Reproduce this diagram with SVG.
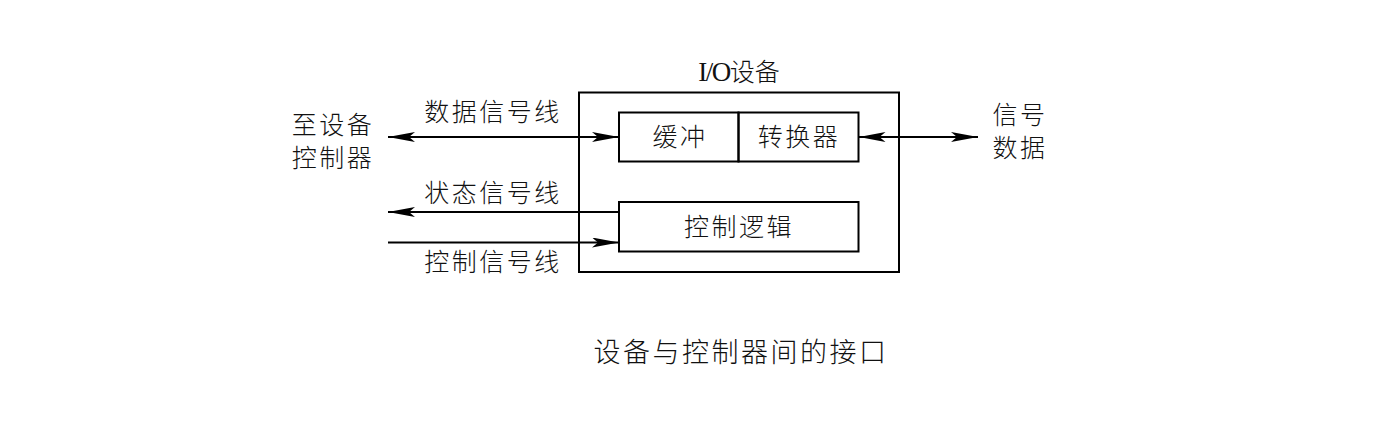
<svg xmlns="http://www.w3.org/2000/svg" width="1393" height="432" viewBox="0 0 1393 432">
<style>
.box{fill:none;stroke:#000;stroke-width:2}
.ln{fill:none;stroke:#000;stroke-width:1.8}
.t{font-family:"Noto Sans CJK SC","Noto Sans",sans-serif;font-size:25px;font-weight:300;fill:#111;letter-spacing:2.5px}
.c{text-anchor:middle}
</style>
<defs>
<marker id="ah" viewBox="0 0 27 10" refX="27" refY="5" markerWidth="27" markerHeight="10" markerUnits="userSpaceOnUse" orient="auto-start-reverse">
<path d="M0,0 L27,5 L0,10 L6,5 Z" fill="#000"/>
</marker>
</defs>
<rect width="1393" height="432" fill="#fff"/>
<g id="io-device">
<rect class="box" x="579" y="92.5" width="320" height="179.5"/>
<text x="739" y="81" class="c" style="font-family:'Liberation Serif','Noto Sans CJK SC',serif;font-size:27px;fill:#111"><tspan letter-spacing="-1.5">I/O</tspan><tspan style="font-family:'Noto Sans CJK SC',sans-serif;font-size:25px;font-weight:300">设备</tspan></text>
</g>
<g id="buffer">
<rect class="box" x="619" y="112.5" width="119.5" height="49"/>
<text x="680" y="146" class="t c">缓冲</text>
</g>
<g id="converter">
<rect class="box" x="738.5" y="112.5" width="120" height="49"/>
<text x="799" y="146" class="t c">转换器</text>
</g>
<g id="control-logic">
<rect class="box" x="619" y="202" width="239.5" height="49.5"/>
<text x="739" y="236" class="t c">控制逻辑</text>
</g>
<g id="controller">
<text x="333" y="134" class="t c">至设备</text>
<text x="333" y="167" class="t c">控制器</text>
</g>
<g id="signal-data">
<text x="1020" y="124" class="t c">信号</text>
<text x="1020" y="157" class="t c">数据</text>
</g>
<g id="connectors">
<line class="ln" x1="388" y1="137" x2="619" y2="137" marker-start="url(#ah)" marker-end="url(#ah)"/>
<line class="ln" x1="619" y1="212" x2="388" y2="212" marker-end="url(#ah)"/>
<line class="ln" x1="388" y1="242.5" x2="619" y2="242.5" marker-end="url(#ah)"/>
<line class="ln" x1="858.5" y1="137" x2="978" y2="137" marker-start="url(#ah)" marker-end="url(#ah)"/>
<text x="493" y="121" class="t c">数据信号线</text>
<text x="493" y="202" class="t c">状态信号线</text>
<text x="493" y="271" class="t c">控制信号线</text>
</g>
<text x="741" y="362" class="t c" style="font-size:27px">设备与控制器间的接口</text>
</svg>
